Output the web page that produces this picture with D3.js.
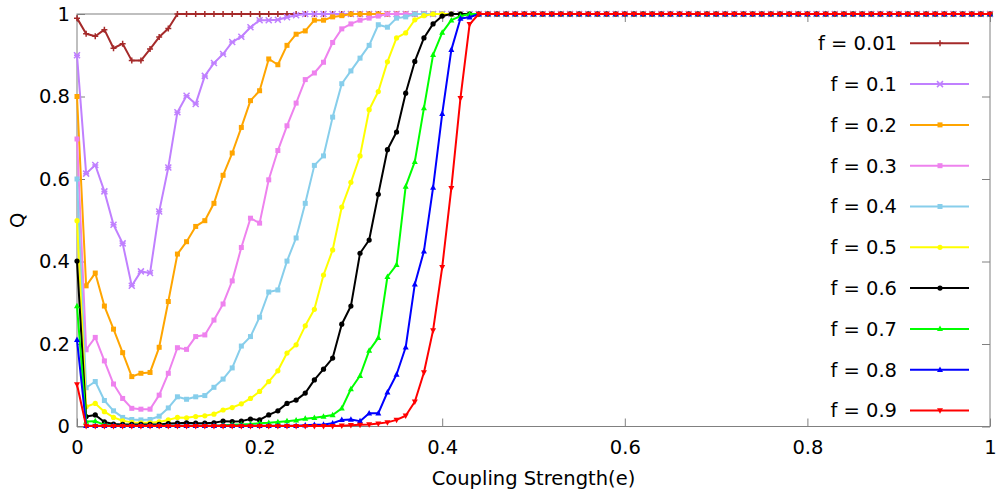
<!DOCTYPE html>
<html><head><meta charset="utf-8">
<script src="https://cdn.jsdelivr.net/npm/d3@7"></script>
<style>
html,body{margin:0;padding:0;background:#fff;}
svg{display:block;font-family:"DejaVu Sans",Verdana,sans-serif;}
</style></head>
<body><svg id="c" width="998" height="495"></svg>
<script>
// Coupling strength e = 0, 0.01, ..., 1.00
const eValues = d3.range(0, 101).map(i => +(i / 100).toFixed(2));

const seriesNames = ["f = 0.01","f = 0.1","f = 0.2","f = 0.3","f = 0.4","f = 0.5","f = 0.6","f = 0.7","f = 0.8","f = 0.9"];

const q001 = [0.99,0.952,0.946,0.962,0.917,0.928,0.887,0.887,0.915,0.944,0.965,1,1,1,1,1,1,1,1,1,1,1,1,1,1,1,1,1,1,1,1,1,1,1,1,1,1,1,1,1,1,1,1,1,1,1,1,1,1,1,1,1,1,1,1,1,1,1,1,1,1,1,1,1,1,1,1,1,1,1,1,1,1,1,1,1,1,1,1,1,1,1,1,1,1,1,1,1,1,1,1,1,1,1,1,1,1,1,1,1,1];
const q01 = [0.90,0.613,0.634,0.570,0.489,0.444,0.341,0.376,0.372,0.521,0.628,0.762,0.802,0.782,0.850,0.881,0.903,0.932,0.945,0.968,0.985,0.985,0.986,0.992,0.997,1,1,1,1,1,1,1,1,1,1,1,1,1,1,1,1,1,1,1,1,1,1,1,1,1,1,1,1,1,1,1,1,1,1,1,1,1,1,1,1,1,1,1,1,1,1,1,1,1,1,1,1,1,1,1,1,1,1,1,1,1,1,1,1,1,1,1,1,1,1,1,1,1,1,1,1];
const q02 = [0.80,0.341,0.372,0.292,0.236,0.179,0.121,0.129,0.131,0.192,0.303,0.418,0.448,0.485,0.499,0.541,0.609,0.663,0.725,0.790,0.814,0.891,0.877,0.924,0.951,0.959,0.985,0.985,0.993,0.996,1,1,1,1,1,1,1,1,1,1,1,1,1,1,1,1,1,1,1,1,1,1,1,1,1,1,1,1,1,1,1,1,1,1,1,1,1,1,1,1,1,1,1,1,1,1,1,1,1,1,1,1,1,1,1,1,1,1,1,1,1,1,1,1,1,1,1,1,1,1,1];
const q03 = [0.697,0.186,0.216,0.159,0.103,0.068,0.044,0.042,0.042,0.076,0.129,0.191,0.187,0.218,0.222,0.258,0.297,0.353,0.434,0.505,0.493,0.598,0.669,0.729,0.784,0.841,0.857,0.883,0.931,0.964,0.976,0.985,0.990,0.995,1,1,1,1,1,1,1,1,1,1,1,1,1,1,1,1,1,1,1,1,1,1,1,1,1,1,1,1,1,1,1,1,1,1,1,1,1,1,1,1,1,1,1,1,1,1,1,1,1,1,1,1,1,1,1,1,1,1,1,1,1,1,1,1,1,1,1];
const q04 = [0.600,0.094,0.109,0.063,0.038,0.022,0.017,0.016,0.017,0.025,0.045,0.072,0.066,0.072,0.075,0.095,0.115,0.142,0.195,0.218,0.265,0.326,0.331,0.401,0.457,0.541,0.633,0.656,0.750,0.831,0.862,0.893,0.924,0.974,0.968,0.990,0.993,1,1,1,1,1,1,1,1,1,1,1,1,1,1,1,1,1,1,1,1,1,1,1,1,1,1,1,1,1,1,1,1,1,1,1,1,1,1,1,1,1,1,1,1,1,1,1,1,1,1,1,1,1,1,1,1,1,1,1,1,1,1,1,1,1,1];
const q05 = [0.499,0.048,0.056,0.036,0.022,0.014,0.010,0.009,0.009,0.011,0.016,0.022,0.021,0.024,0.026,0.030,0.040,0.046,0.055,0.068,0.085,0.109,0.135,0.178,0.198,0.244,0.284,0.367,0.428,0.532,0.592,0.656,0.768,0.812,0.884,0.942,0.954,0.986,0.996,1,1,1,1,1,1,1,1,1,1,1,1,1,1,1,1,1,1,1,1,1,1,1,1,1,1,1,1,1,1,1,1,1,1,1,1,1,1,1,1,1,1,1,1,1,1,1,1,1,1,1,1,1,1,1,1,1,1,1,1,1,1];
const q06 = [0.401,0.024,0.028,0.011,0.006,0.005,0.005,0.005,0.005,0.005,0.007,0.008,0.009,0.008,0.008,0.009,0.013,0.012,0.013,0.018,0.016,0.028,0.038,0.056,0.064,0.081,0.113,0.139,0.166,0.248,0.292,0.420,0.452,0.563,0.671,0.714,0.808,0.885,0.942,0.976,0.995,1,1,1,1,1,1,1,1,1,1,1,1,1,1,1,1,1,1,1,1,1,1,1,1,1,1,1,1,1,1,1,1,1,1,1,1,1,1,1,1,1,1,1,1,1,1,1,1,1,1,1,1,1,1,1,1,1,1,1,1];
const q07 = [0.292,0.012,0.013,0.004,0.002,0.002,0.002,0.002,0.002,0.002,0.002,0.002,0.002,0.002,0.002,0.002,0.003,0.004,0.005,0.006,0.008,0.009,0.011,0.013,0.015,0.019,0.021,0.024,0.028,0.044,0.091,0.123,0.184,0.215,0.363,0.392,0.582,0.642,0.772,0.901,0.955,0.985,0.995,1,1,1,1,1,1,1,1,1,1,1,1,1,1,1,1,1,1,1,1,1,1,1,1,1,1,1,1,1,1,1,1,1,1,1,1,1,1,1,1,1,1,1,1,1,1,1,1,1,1,1,1,1,1,1,1,1,1];
const q08 = [0.210,0.002,0.002,0.002,0.002,0.002,0.002,0.002,0.002,0.002,0.002,0.002,0.002,0.002,0.002,0.002,0.002,0.002,0.002,0.002,0.002,0.002,0.002,0.002,0.002,0.003,0.004,0.005,0.008,0.016,0.017,0.013,0.032,0.032,0.083,0.126,0.192,0.345,0.425,0.579,0.758,0.913,0.989,0.992,1,1,1,1,1,1,1,1,1,1,1,1,1,1,1,1,1,1,1,1,1,1,1,1,1,1,1,1,1,1,1,1,1,1,1,1,1,1,1,1,1,1,1,1,1,1,1,1,1,1,1,1,1,1,1,1,1];
const q09 = [0.102,0.001,0.001,0.001,0.001,0.001,0.001,0.001,0.001,0.001,0.001,0.001,0.001,0.001,0.001,0.001,0.001,0.001,0.001,0.001,0.001,0.001,0.001,0.001,0.001,0.001,0.001,0.001,0.001,0.002,0.003,0.004,0.005,0.007,0.010,0.016,0.026,0.060,0.131,0.233,0.386,0.578,0.796,0.975,1,1,1,1,1,1,1,1,1,1,1,1,1,1,1,1,1,1,1,1,1,1,1,1,1,1,1,1,1,1,1,1,1,1,1,1,1,1,1,1,1,1,1,1,1,1,1,1,1,1,1,1,1,1,1,1,1];

const xTicks = [0, 0.2, 0.4, 0.6, 0.8, 1];
const yTicks = [0, 0.2, 0.4, 0.6, 0.8, 1];

const seriesValues = [q001,q01,q02,q03,q04,q05,q06,q07,q08,q09].map(a => a.slice(0, eValues.length));
const colors = ["#a52a2a","#c080ff","#ffa500","#ee82ee","#87ceeb","#ffff00","#000000","#00ff00","#0000ff","#ff0000"];
const markers = ["plus","star","square","square","square","circle","circle","triangle","triangle","invtriangle"];

const svg = d3.select("#c");
const L = 77, R = 990, T = 14, B = 426.5;
const x = d3.scaleLinear().domain([0,1]).range([L,R]);
const y = d3.scaleLinear().domain([0,1]).range([B,T]);
const fs = 19.5;

// frame
svg.append("rect").attr("x",L).attr("y",T).attr("width",R-L).attr("height",B-T)
  .attr("fill","none").attr("stroke","#808080").attr("stroke-width",1);

// ticks (inward, mirrored)
const tk = 8;
const axB = svg.append("g").attr("transform",`translate(0,${B})`)
  .call(d3.axisBottom(x).tickValues(xTicks).tickSizeInner(-tk).tickSizeOuter(0).tickFormat(d3.format("~g")));
const axT = svg.append("g").attr("transform",`translate(0,${T})`)
  .call(d3.axisTop(x).tickValues(xTicks).tickSizeInner(-tk).tickSizeOuter(0).tickFormat(""));
const axL = svg.append("g").attr("transform",`translate(${L},0)`)
  .call(d3.axisLeft(y).tickValues(yTicks).tickSizeInner(-tk).tickSizeOuter(0).tickFormat(d3.format("~g")));
const axR = svg.append("g").attr("transform",`translate(${R},0)`)
  .call(d3.axisRight(y).tickValues(yTicks).tickSizeInner(-tk).tickSizeOuter(0).tickFormat(""));
[axB,axT,axL,axR].forEach(a=>{a.select(".domain").remove();a.selectAll(".tick line").attr("stroke","#808080");});
axB.selectAll(".tick text").attr("font-size",fs).attr("font-family","DejaVu Sans").attr("fill","#000").attr("y",14).attr("dy","0.71em");
axL.selectAll(".tick text").attr("font-size",fs).attr("font-family","DejaVu Sans").attr("fill","#000").attr("x",-7);

// axis titles
svg.append("text").attr("x",(L+R)/2).attr("y",485).attr("text-anchor","middle")
  .attr("font-size",fs).text("Coupling Strength(e)");
svg.append("text").attr("transform",`translate(24,${(T+B)/2}) rotate(-90)`).attr("text-anchor","middle")
  .attr("font-size",fs).text("Q");

function drawMarker(g, type, cx, cy, col){
  const s = 3;
  if(type==="plus"){
    g.append("path").attr("d",`M${cx-s},${cy}H${cx+s}M${cx},${cy-s}V${cy+s}`).attr("stroke",col).attr("stroke-width",1.5).attr("fill","none");
  } else if(type==="star"){
    g.append("path").attr("d",`M${cx-s},${cy-s}L${cx+s},${cy+s}M${cx-s},${cy+s}L${cx+s},${cy-s}M${cx-s},${cy}H${cx+s}`).attr("stroke",col).attr("stroke-width",1.5).attr("fill","none");
  } else if(type==="square"){
    g.append("rect").attr("x",cx-2.5).attr("y",cy-2.5).attr("width",5).attr("height",5).attr("fill",col);
  } else if(type==="circle"){
    g.append("circle").attr("cx",cx).attr("cy",cy).attr("r",2.6).attr("fill",col);
  } else if(type==="triangle"){
    g.append("path").attr("d",`M${cx},${cy-3.3}L${cx+3},${cy+2.2}L${cx-3},${cy+2.2}Z`).attr("fill",col);
  } else if(type==="invtriangle"){
    g.append("path").attr("d",`M${cx},${cy+3.3}L${cx+3},${cy-2.2}L${cx-3},${cy-2.2}Z`).attr("fill",col);
  }
}

const line = d3.line().x((d,i)=>x(eValues[i])).y(d=>y(d));
const plot = svg.append("g");
seriesValues.forEach((vals,k)=>{
  const g = plot.append("g");
  g.append("path").datum(vals).attr("d",line).attr("fill","none").attr("stroke",colors[k]).attr("stroke-width",2).attr("stroke-linejoin","round");
  vals.forEach((v,i)=>drawMarker(g, markers[k], x(eValues[i]), y(v), colors[k]));
});

// legend
const legY0 = 43.3, legDy = 40.8;
seriesNames.forEach((name,k)=>{
  const yy = legY0 + k*legDy;
  svg.append("text").attr("x",897).attr("y",yy).attr("dy","0.35em").attr("text-anchor","end").attr("font-size",fs).text(name);
  svg.append("line").attr("x1",910).attr("x2",969).attr("y1",yy).attr("y2",yy).attr("stroke",colors[k]).attr("stroke-width",2);
  drawMarker(svg.append("g"), markers[k], 940, yy, colors[k]);
});
</script></body></html>
